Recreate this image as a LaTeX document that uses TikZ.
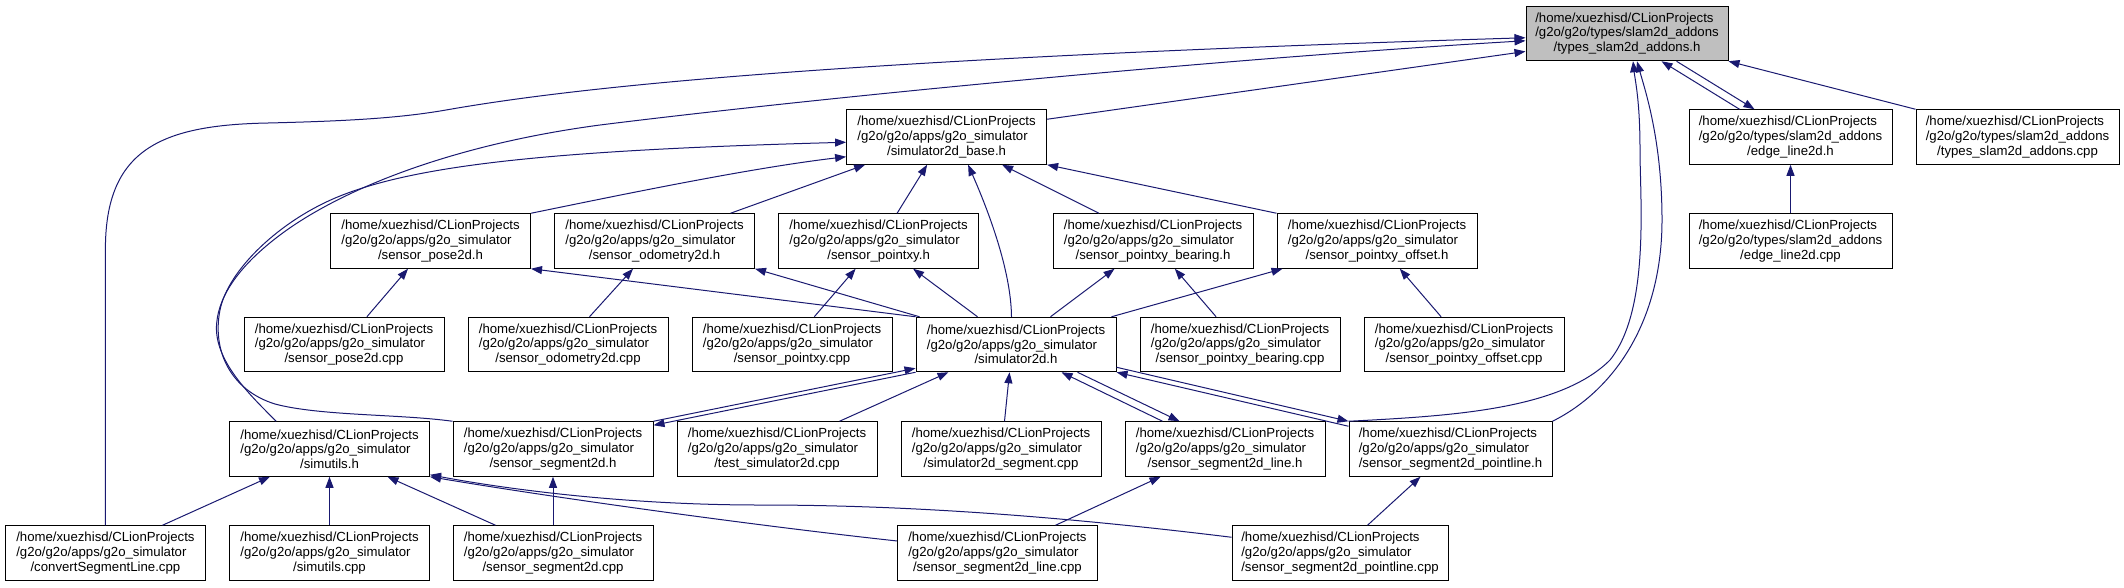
\documentclass[tikz,border=0pt]{standalone}
\usepackage{fontspec}
\setmainfont{Liberation Sans}
\usetikzlibrary{arrows.meta,calc}
\definecolor{edgecol}{HTML}{191970}
\definecolor{rootfill}{HTML}{BFBFBF}
\newdimen\lblw
\newcommand\lbl[3]{\vbox{\baselineskip=14.7pt\lineskiplimit=-10pt
  \setbox0\hbox{#1}\setbox2\hbox{#2}\setbox4\hbox{#3}%
  \lblw=\wd0 \ifdim\wd2>\lblw \lblw=\wd2 \fi \ifdim\wd4>\lblw \lblw=\wd4 \fi
  \hbox to\lblw{\unhcopy0\hfil}\hbox to\lblw{\unhcopy2\hfil}\hbox to\lblw{\hfil\unhcopy4\hfil}}}
\newcommand\appl[1]{\lbl{/home/xuezhisd/CLionProjects}{/g2o/g2o/apps/g2o\_simulator}{#1}}
\newcommand\typl[1]{\lbl{/home/xuezhisd/CLionProjects}{/g2o/g2o/types/slam2d\_addons}{#1}}
\begin{document}
\begin{tikzpicture}[x=1pt,y=-1pt,
  nbox/.style={draw=black, line width=1pt, fill=white, minimum width=200pt,
    minimum height=54.5pt, inner sep=0pt, font=\fontsize{13.2}{14.7}\selectfont},
  dep/.style={draw=edgecol, line width=1pt, -{Triangle[length=11pt,width=8pt]}},
]
\useasboundingbox (0,0) rectangle (2124,587);
% row 0
\node[nbox, fill=rootfill, minimum width=202pt] (R) at (1627,33.5) {\typl{/types\_slam2d\_addons.h}};
% row 1
\node[nbox] (B) at (946.6,137) {\appl{/simulator2d\_base.h}};
\node[nbox, minimum width=203pt] (EL) at (1790.5,137) {\typl{/edge\_line2d.h}};
\node[nbox, minimum width=203pt] (TC) at (2017.5,137) {\typl{/types\_slam2d\_addons.cpp}};
% row 2
\node[nbox] (P2) at (430.5,241) {\appl{/sensor\_pose2d.h}};
\node[nbox] (O2) at (654.5,241) {\appl{/sensor\_odometry2d.h}};
\node[nbox] (PX) at (878.6,241) {\appl{/sensor\_pointxy.h}};
\node[nbox] (BE) at (1153,241) {\appl{/sensor\_pointxy\_bearing.h}};
\node[nbox] (OF) at (1377,241) {\appl{/sensor\_pointxy\_offset.h}};
\node[nbox, minimum width=203pt] (ELC) at (1790.5,241) {\typl{/edge\_line2d.cpp}};
% row 3
\node[nbox] (P2C) at (344,344.5) {\appl{/sensor\_pose2d.cpp}};
\node[nbox] (O2C) at (568,344.5) {\appl{/sensor\_odometry2d.cpp}};
\node[nbox] (PXC) at (792,344.5) {\appl{/sensor\_pointxy.cpp}};
\node[nbox] (S) at (1016,344.5) {\appl{/simulator2d.h}};
\node[nbox] (BEC) at (1240,344.5) {\appl{/sensor\_pointxy\_bearing.cpp}};
\node[nbox] (OFC) at (1464,344.5) {\appl{/sensor\_pointxy\_offset.cpp}};
% row 4
\node[nbox] (SU) at (329.5,449) {\appl{/simutils.h}};
\node[nbox] (SG) at (553,449) {\appl{/sensor\_segment2d.h}};
\node[nbox] (TS) at (777,449) {\appl{/test\_simulator2d.cpp}};
\node[nbox] (SS) at (1001,449) {\appl{/simulator2d\_segment.cpp}};
\node[nbox] (SL) at (1225,449) {\appl{/sensor\_segment2d\_line.h}};
\node[nbox, minimum width=203pt] (SP) at (1450.5,449) {\appl{/sensor\_segment2d\_pointline.h}};
% row 5
\node[nbox] (CV) at (105.4,553) {\appl{/convertSegmentLine.cpp}};
\node[nbox] (SUC) at (329.5,553) {\appl{/simutils.cpp}};
\node[nbox] (SGC) at (553,553) {\appl{/sensor\_segment2d.cpp}};
\node[nbox] (SLC) at (997.4,553) {\appl{/sensor\_segment2d\_line.cpp}};
\node[nbox, minimum width=216pt] (SPC) at (1340,553) {\appl{/sensor\_segment2d\_pointline.cpp}};

% ---- edges into the root
\draw[dep] ($(B.north east)+(0,10)$) -- ($(R.north west)+(0,45.7)$);
\draw[dep] (CV.north) -- ++(0,-276) .. controls (105.4,150) and (160,125) .. (268,123)
  .. controls (350,121) and (400,118) .. (446,110)
  .. controls (560,90) and (800,60) .. ($(R.north west)+(0,32)$);
\draw[dep] ($(SU.north west)+(47.2,0)$) .. controls (250,395) and (213,360) .. (216.7,323)
  .. controls (219,295) and (240,265) .. (280,235)
  .. controls (340,190) and (450,145) .. (600,125)
  .. controls (800,100) and (1200,60) .. ($(R.north west)+(0,35)$);
\draw[dep] ($(EL.north west)+(51,0)$) -- ($(R.south west)+(136,0)$);
\draw[dep] ($(R.south west)+(151,0)$) -- ($(EL.north west)+(66,0)$);
\draw[dep] (TC.north west) -- (R.south east);
\draw[dep] (SP.north east) .. controls (1615,390) and (1662,320) .. (1662,220)
  .. controls (1662,140) and (1645,90) .. ($(R.south)+(10,0)$);
\draw[dep] (SP.north west) .. controls (1450,416) and (1560,410) .. (1610,360)
  .. controls (1650,310) and (1640,200) .. (1640,150)
  .. controls (1640,100) and (1635,80) .. ($(R.south)+(6,0)$);

% ---- edges into simulator2d_base.h
\draw[dep] (SG.north west) .. controls (400,414) and (320,416) .. (275,404)
  .. controls (230,390) and (212,350) .. (220,310)
  .. controls (228,270) and (280,220) .. (340,196)
  .. controls (420,164) and (560,150) .. ($(B.north west)+(0,33)$);
\draw[dep] (P2.north east) .. controls (620,195) and (750,168) .. ($(B.north west)+(0,47.5)$);
\draw[dep] ($(O2.north east)+(-24.5,0)$) -- ($(B.south west)+(19,0)$);
\draw[dep] ($(PX.north west)+(119,0)$) -- ($(B.south west)+(81,0)$);
\draw[dep] ($(S.north west)+(96,0)$) .. controls (1011,270) and (988,210) .. ($(B.south west)+(122,0)$);
\draw[dep] ($(BE.north west)+(46.5,0)$) -- ($(B.south west)+(156,0)$);
\draw[dep] (OF.north west) -- (B.south east);

% ---- row 3 to row 2
\draw[dep] ($(P2C.north west)+(123.4,0)$) -- ($(P2.south west)+(78,0)$);
\draw[dep] ($(O2C.north west)+(122,0)$) -- ($(O2.south west)+(79,0)$);
\draw[dep] ($(PXC.north west)+(122.8,0)$) -- ($(PX.south west)+(77.5,0)$);
\draw[dep] ($(BEC.north west)+(76.6,0)$) -- ($(BE.south west)+(122.3,0)$);
\draw[dep] ($(OFC.north west)+(77.6,0)$) -- ($(OF.south west)+(123.3,0)$);
\draw[dep] (ELC.north) -- (EL.south);

% ---- simulator2d.h to the sensors
\draw[dep] (S.north west) -- (P2.south east);
\draw[dep] ($(S.north west)+(4,0)$) -- (O2.south east);
\draw[dep] ($(S.north west)+(62,0)$) -- ($(PX.south west)+(135,0)$);
\draw[dep] ($(S.north west)+(135,0)$) -- ($(BE.south west)+(62,0)$);
\draw[dep] ($(S.north east)+(-5,0)$) -- ($(OF.south west)+(6,0)$);

% ---- row 4 and simulator2d.h
\draw[dep] (SG.north east) -- ($(S.south west)+(0,-4)$);
\draw[dep] (S.south west) -- ($(SG.north east)+(0,4)$);
\draw[dep] ($(TS.north west)+(163,0)$) -- ($(S.south west)+(33,0)$);
\draw[dep] ($(SS.north west)+(104,0)$) -- ($(S.south west)+(94,0)$);
\draw[dep] ($(SL.north west)+(38,0)$) -- ($(S.south west)+(146,0)$);
\draw[dep] ($(S.south west)+(162,0)$) -- ($(SL.north west)+(55,0)$);
\draw[dep] ($(SP.north west)+(0,5)$) -- (S.south east);
\draw[dep] ($(S.south east)+(0,-5)$) -- (SP.north west);

% ---- row 5
\draw[dep] (SGC.north) -- (SG.south);
\draw[dep] (SUC.north) -- (SU.south);
\draw[dep] ($(CV.north west)+(157.6,0)$) -- ($(SU.south west)+(41,0)$);
\draw[dep] ($(SGC.north west)+(43,0)$) -- ($(SU.south west)+(158.5,0)$);
\draw[dep] ($(SLC.north west)+(0,15.7)$) .. controls (750,525) and (550,497) .. (SU.south east);
\draw[dep] ($(SPC.north west)+(0,12)$) .. controls (1050,515) and (900,505) .. (760,505)
  .. controls (620,505) and (500,488) .. ($(SU.south east)+(0,-2)$);
\draw[dep] ($(SLC.north west)+(158.6,0)$) -- ($(SL.south west)+(36,0)$);
\draw[dep] ($(SPC.north west)+(136,0)$) -- ($(SP.south west)+(72,0)$);
\end{tikzpicture}
\end{document}
